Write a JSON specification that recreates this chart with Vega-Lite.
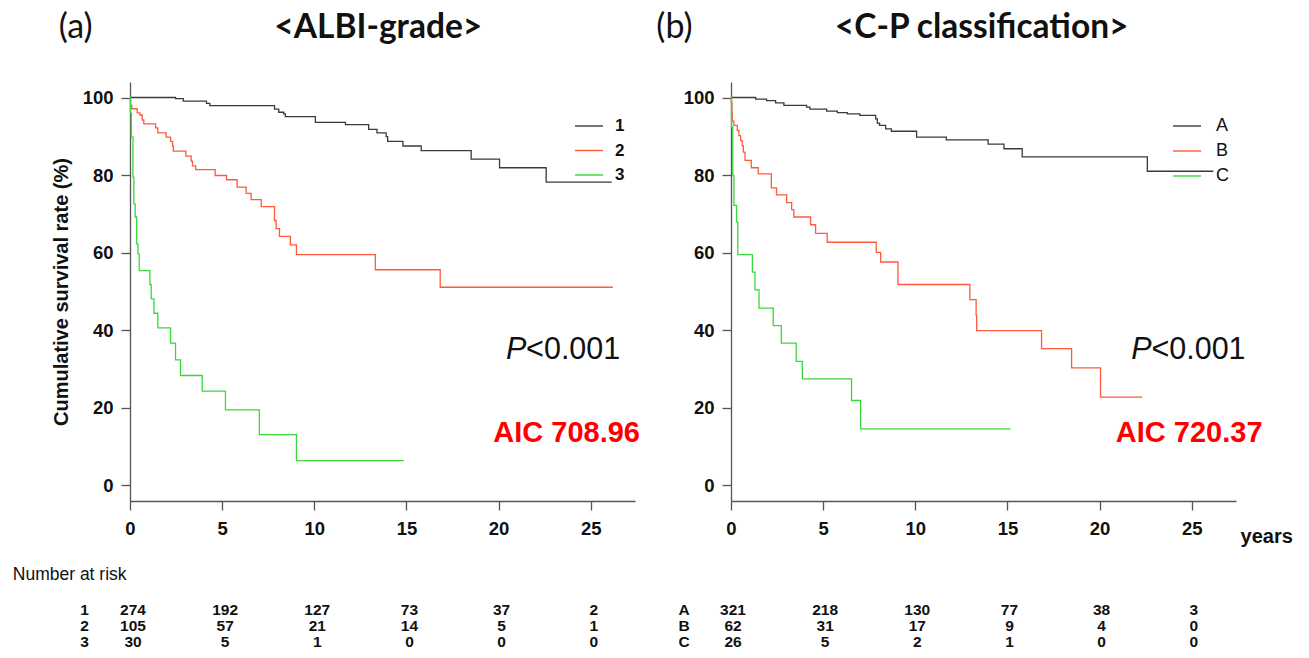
{
  "$schema": "https://vega.github.io/schema/vega-lite/v6.json",
  "padding": {"left": 12, "top": 11, "right": 5, "bottom": 5},
  "background": "white",
  "datasets": {
    "albi": [
      {"group": "1", "t": 0, "s": 100}, {"group": "1", "t": 2.47, "s": 99.7}, {"group": "1", "t": 2.89, "s": 99.05}, {"group": "1", "t": 4.15, "s": 98.5}, {"group": "1", "t": 4.33, "s": 97.9}, {"group": "1", "t": 7.84, "s": 97.0}, {"group": "1", "t": 8.07, "s": 96.2}, {"group": "1", "t": 8.34, "s": 95.8}, {"group": "1", "t": 8.43, "s": 95.1}, {"group": "1", "t": 10.06, "s": 93.6}, {"group": "1", "t": 11.69, "s": 93.0}, {"group": "1", "t": 12.95, "s": 91.8}, {"group": "1", "t": 13.4, "s": 90.9}, {"group": "1", "t": 13.9, "s": 89.9}, {"group": "1", "t": 13.98, "s": 88.7}, {"group": "1", "t": 14.81, "s": 87.5}, {"group": "1", "t": 15.8, "s": 86.3}, {"group": "1", "t": 18.51, "s": 84.1}, {"group": "1", "t": 20.05, "s": 81.9}, {"group": "1", "t": 22.58, "s": 78.2}, {"group": "1", "t": 26.14, "s": 78.2},
      {"group": "2", "t": 0, "s": 100}, {"group": "2", "t": 0.03, "s": 98.0}, {"group": "2", "t": 0.1, "s": 97.1}, {"group": "2", "t": 0.39, "s": 96.05}, {"group": "2", "t": 0.54, "s": 95.5}, {"group": "2", "t": 0.66, "s": 94.2}, {"group": "2", "t": 0.75, "s": 93.2}, {"group": "2", "t": 1.39, "s": 92.2}, {"group": "2", "t": 1.51, "s": 90.9}, {"group": "2", "t": 1.96, "s": 89.8}, {"group": "2", "t": 2.2, "s": 88.7}, {"group": "2", "t": 2.31, "s": 87.5}, {"group": "2", "t": 2.35, "s": 86.2}, {"group": "2", "t": 3.03, "s": 84.9}, {"group": "2", "t": 3.32, "s": 83.6}, {"group": "2", "t": 3.39, "s": 82.4}, {"group": "2", "t": 3.56, "s": 81.4}, {"group": "2", "t": 4.62, "s": 79.9}, {"group": "2", "t": 5.24, "s": 78.8}, {"group": "2", "t": 5.81, "s": 76.9}, {"group": "2", "t": 6.3, "s": 75.3}, {"group": "2", "t": 6.57, "s": 73.7}, {"group": "2", "t": 7.12, "s": 71.9}, {"group": "2", "t": 7.84, "s": 68.3}, {"group": "2", "t": 7.93, "s": 66.2}, {"group": "2", "t": 8.11, "s": 64.2}, {"group": "2", "t": 8.7, "s": 62.0}, {"group": "2", "t": 9.03, "s": 59.5}, {"group": "2", "t": 13.31, "s": 55.6}, {"group": "2", "t": 16.83, "s": 51.1}, {"group": "2", "t": 26.2, "s": 51.1},
      {"group": "3", "t": 0, "s": 100}, {"group": "3", "t": 0.02, "s": 96}, {"group": "3", "t": 0.07, "s": 89.8}, {"group": "3", "t": 0.16, "s": 79.5}, {"group": "3", "t": 0.21, "s": 72.6}, {"group": "3", "t": 0.28, "s": 69.2}, {"group": "3", "t": 0.36, "s": 62.3}, {"group": "3", "t": 0.43, "s": 59.7}, {"group": "3", "t": 0.5, "s": 55.4}, {"group": "3", "t": 1.08, "s": 51.8}, {"group": "3", "t": 1.15, "s": 48.1}, {"group": "3", "t": 1.3, "s": 44.4}, {"group": "3", "t": 1.51, "s": 40.6}, {"group": "3", "t": 2.2, "s": 36.7}, {"group": "3", "t": 2.47, "s": 32.4}, {"group": "3", "t": 2.74, "s": 28.35}, {"group": "3", "t": 3.92, "s": 24.3}, {"group": "3", "t": 5.18, "s": 19.5}, {"group": "3", "t": 7.02, "s": 13.1}, {"group": "3", "t": 9.03, "s": 6.4}, {"group": "3", "t": 14.85, "s": 6.4}
    ],
    "cp": [
      {"group": "A", "t": 0, "s": 100}, {"group": "A", "t": 1.34, "s": 99.6}, {"group": "A", "t": 1.93, "s": 99.2}, {"group": "A", "t": 2.42, "s": 98.6}, {"group": "A", "t": 2.87, "s": 98.0}, {"group": "A", "t": 4.1, "s": 97.5}, {"group": "A", "t": 4.28, "s": 97.0}, {"group": "A", "t": 5.19, "s": 96.5}, {"group": "A", "t": 5.77, "s": 96.1}, {"group": "A", "t": 6.31, "s": 95.8}, {"group": "A", "t": 6.99, "s": 95.4}, {"group": "A", "t": 7.85, "s": 94.5}, {"group": "A", "t": 7.94, "s": 93.4}, {"group": "A", "t": 8.06, "s": 92.8}, {"group": "A", "t": 8.39, "s": 91.9}, {"group": "A", "t": 8.7, "s": 91.3}, {"group": "A", "t": 10.07, "s": 89.8}, {"group": "A", "t": 11.68, "s": 89.1}, {"group": "A", "t": 13.95, "s": 88.0}, {"group": "A", "t": 14.81, "s": 86.8}, {"group": "A", "t": 15.8, "s": 84.7}, {"group": "A", "t": 22.59, "s": 81.0}, {"group": "A", "t": 26.17, "s": 81.0},
      {"group": "B", "t": 0, "s": 100}, {"group": "B", "t": 0.02, "s": 98.4}, {"group": "B", "t": 0.05, "s": 96.2}, {"group": "B", "t": 0.07, "s": 93.9}, {"group": "B", "t": 0.16, "s": 92.8}, {"group": "B", "t": 0.34, "s": 91.5}, {"group": "B", "t": 0.43, "s": 90.2}, {"group": "B", "t": 0.52, "s": 88.9}, {"group": "B", "t": 0.61, "s": 87.6}, {"group": "B", "t": 0.67, "s": 85.9}, {"group": "B", "t": 0.76, "s": 83.8}, {"group": "B", "t": 1.1, "s": 81.9}, {"group": "B", "t": 1.48, "s": 80.3}, {"group": "B", "t": 2.19, "s": 76.7}, {"group": "B", "t": 2.47, "s": 74.9}, {"group": "B", "t": 3.02, "s": 72.9}, {"group": "B", "t": 3.29, "s": 71.1}, {"group": "B", "t": 3.41, "s": 69.2}, {"group": "B", "t": 4.32, "s": 67.2}, {"group": "B", "t": 4.59, "s": 65.0}, {"group": "B", "t": 5.22, "s": 62.7}, {"group": "B", "t": 7.88, "s": 60.1}, {"group": "B", "t": 8.12, "s": 57.6}, {"group": "B", "t": 9.06, "s": 51.8}, {"group": "B", "t": 12.96, "s": 47.9}, {"group": "B", "t": 13.3, "s": 43.8}, {"group": "B", "t": 13.33, "s": 39.9}, {"group": "B", "t": 16.85, "s": 35.3}, {"group": "B", "t": 18.48, "s": 30.3}, {"group": "B", "t": 20.05, "s": 22.8}, {"group": "B", "t": 22.32, "s": 22.8},
      {"group": "C", "t": 0, "s": 100}, {"group": "C", "t": 0.03, "s": 92.4}, {"group": "C", "t": 0.1, "s": 79.9}, {"group": "C", "t": 0.16, "s": 72.2}, {"group": "C", "t": 0.3, "s": 67.9}, {"group": "C", "t": 0.37, "s": 59.5}, {"group": "C", "t": 1.16, "s": 55.0}, {"group": "C", "t": 1.3, "s": 50.4}, {"group": "C", "t": 1.52, "s": 45.7}, {"group": "C", "t": 2.29, "s": 41.2}, {"group": "C", "t": 2.73, "s": 36.7}, {"group": "C", "t": 3.54, "s": 32.0}, {"group": "C", "t": 3.87, "s": 27.5}, {"group": "C", "t": 6.54, "s": 21.9}, {"group": "C", "t": 7.03, "s": 14.6}, {"group": "C", "t": 15.17, "s": 14.6}
    ],
    "albiRisk": [
      {"group": "1", "t": 0, "n": 274}, {"group": "1", "t": 5, "n": 192}, {"group": "1", "t": 10, "n": 127}, {"group": "1", "t": 15, "n": 73}, {"group": "1", "t": 20, "n": 37}, {"group": "1", "t": 25, "n": 2},
      {"group": "2", "t": 0, "n": 105}, {"group": "2", "t": 5, "n": 57}, {"group": "2", "t": 10, "n": 21}, {"group": "2", "t": 15, "n": 14}, {"group": "2", "t": 20, "n": 5}, {"group": "2", "t": 25, "n": 1},
      {"group": "3", "t": 0, "n": 30}, {"group": "3", "t": 5, "n": 5}, {"group": "3", "t": 10, "n": 1}, {"group": "3", "t": 15, "n": 0}, {"group": "3", "t": 20, "n": 0}, {"group": "3", "t": 25, "n": 0}
    ],
    "cpRisk": [
      {"group": "A", "t": 0, "n": 321}, {"group": "A", "t": 5, "n": 218}, {"group": "A", "t": 10, "n": 130}, {"group": "A", "t": 15, "n": 77}, {"group": "A", "t": 20, "n": 38}, {"group": "A", "t": 25, "n": 3},
      {"group": "B", "t": 0, "n": 62}, {"group": "B", "t": 5, "n": 31}, {"group": "B", "t": 10, "n": 17}, {"group": "B", "t": 15, "n": 9}, {"group": "B", "t": 20, "n": 4}, {"group": "B", "t": 25, "n": 0},
      {"group": "C", "t": 0, "n": 26}, {"group": "C", "t": 5, "n": 5}, {"group": "C", "t": 10, "n": 2}, {"group": "C", "t": 15, "n": 1}, {"group": "C", "t": 20, "n": 0}, {"group": "C", "t": 25, "n": 0}
    ]
  },
  "hconcat": [
    {
      "width": 505, "height": 419,
      "layer": [
        {
          "data": {"name": "albi"},
          "mark": {"type": "line", "interpolate": "step-after", "strokeWidth": 1.3},
          "encoding": {
            "x": {"field": "t", "type": "quantitative", "scale": {"domain": [0, 27.4], "nice": false, "zero": false}, "axis": {"values": [0, 5, 10, 15, 20, 25], "title": null, "tickSize": 9, "labelPadding": 9, "labelFlush": false, "labelOverlap": false}},
            "y": {"field": "s", "type": "quantitative", "scale": {"domain": [-4, 104], "nice": false, "zero": false}, "axis": {"values": [0, 20, 40, 60, 80, 100], "title": "Cumulative survival rate (%)", "titleFontSize": 20, "titlePadding": 11, "tickSize": 9, "labelPadding": 8, "labelFlush": false, "labelOverlap": false}},
            "color": {"field": "group", "type": "nominal", "scale": {"domain": ["1", "2", "3"], "range": ["#3a3a3a", "#ff5a3c", "#3ad83a"]}, "legend": {"orient": "none", "legendX": 444, "legendY": 29, "title": null, "symbolType": "stroke", "symbolSize": 784, "symbolStrokeWidth": 1.4, "labelFontSize": 17, "labelFontWeight": "bold", "labelOffset": 11, "rowPadding": 1.5, "padding": 0}}
          }
        },
        {"data": {"values": [{}]}, "mark": {"type": "text", "text": "(a)", "font": "Lato", "fontSize": 34, "align": "center", "baseline": "middle", "color": "#111"}, "encoding": {"x": {"datum": -2.95}, "y": {"datum": 117.8}}},
        {"data": {"values": [{}]}, "mark": {"type": "text", "text": "<ALBI-grade>", "font": "Lato", "fontSize": 33.5, "fontWeight": "bold", "align": "center", "baseline": "middle", "color": "#111"}, "encoding": {"x": {"datum": 13.47}, "y": {"datum": 117.8}}},
        {"data": {"values": [{}]}, "mark": {"type": "text", "text": "<0.001", "font": "Liberation Sans", "fontSize": 30.5, "align": "right", "baseline": "middle", "color": "#111"}, "encoding": {"x": {"datum": 26.6}, "y": {"datum": 34.8}}},
        {"data": {"values": [{}]}, "mark": {"type": "text", "text": "P", "font": "Liberation Sans", "fontSize": 30.5, "fontStyle": "italic", "align": "right", "baseline": "middle", "dx": -94, "color": "#111"}, "encoding": {"x": {"datum": 26.6}, "y": {"datum": 34.8}}},
        {"data": {"values": [{}]}, "mark": {"type": "text", "text": "AIC 708.96", "font": "Liberation Sans", "fontSize": 29, "fontWeight": "bold", "align": "right", "baseline": "middle", "color": "#ff0000"}, "encoding": {"x": {"datum": 27.67}, "y": {"datum": 13.4}}},
        {"data": {"values": [{}]}, "mark": {"type": "text", "text": "Number at risk", "font": "Liberation Sans", "fontSize": 17.5, "align": "left", "baseline": "middle", "color": "#111"}, "encoding": {"x": {"datum": -6.36}, "y": {"datum": -23.2}}},
        {"data": {"name": "albiRisk"}, "transform": [{"filter": {"field": "group", "equal": "1"}}], "mark": {"type": "text", "font": "Liberation Sans", "fontSize": 15.5, "fontWeight": "bold", "align": "center", "baseline": "middle", "dx": 3, "color": "#111"}, "encoding": {"x": {"field": "t", "type": "quantitative"}, "y": {"datum": -32.08}, "text": {"field": "n"}}},
        {"data": {"name": "albiRisk"}, "transform": [{"filter": {"field": "group", "equal": "2"}}], "mark": {"type": "text", "font": "Liberation Sans", "fontSize": 15.5, "fontWeight": "bold", "align": "center", "baseline": "middle", "dx": 3, "color": "#111"}, "encoding": {"x": {"field": "t", "type": "quantitative"}, "y": {"datum": -36.2}, "text": {"field": "n"}}},
        {"data": {"name": "albiRisk"}, "transform": [{"filter": {"field": "group", "equal": "3"}}], "mark": {"type": "text", "font": "Liberation Sans", "fontSize": 15.5, "fontWeight": "bold", "align": "center", "baseline": "middle", "dx": 3, "color": "#111"}, "encoding": {"x": {"field": "t", "type": "quantitative"}, "y": {"datum": -40.33}, "text": {"field": "n"}}},
        {"data": {"name": "albiRisk"}, "transform": [{"filter": "datum.group === '1' && datum.t === 0"}], "mark": {"type": "text", "font": "Liberation Sans", "fontSize": 15.5, "fontWeight": "bold", "align": "center", "baseline": "middle", "color": "#111"}, "encoding": {"x": {"datum": -2.46}, "y": {"datum": -32.08}, "text": {"field": "group"}}},
        {"data": {"name": "albiRisk"}, "transform": [{"filter": "datum.group === '2' && datum.t === 0"}], "mark": {"type": "text", "font": "Liberation Sans", "fontSize": 15.5, "fontWeight": "bold", "align": "center", "baseline": "middle", "color": "#111"}, "encoding": {"x": {"datum": -2.46}, "y": {"datum": -36.2}, "text": {"field": "group"}}},
        {"data": {"name": "albiRisk"}, "transform": [{"filter": "datum.group === '3' && datum.t === 0"}], "mark": {"type": "text", "font": "Liberation Sans", "fontSize": 15.5, "fontWeight": "bold", "align": "center", "baseline": "middle", "color": "#111"}, "encoding": {"x": {"datum": -2.46}, "y": {"datum": -40.33}, "text": {"field": "group"}}}
      ]
    },
    {
      "width": 505, "height": 419,
      "layer": [
        {
          "data": {"name": "cp"},
          "mark": {"type": "line", "interpolate": "step-after", "strokeWidth": 1.3},
          "encoding": {
            "x": {"field": "t", "type": "quantitative", "scale": {"domain": [0, 27.4], "nice": false, "zero": false}, "axis": {"values": [0, 5, 10, 15, 20, 25], "title": null, "tickSize": 9, "labelPadding": 9, "labelFlush": false, "labelOverlap": false}},
            "y": {"field": "s", "type": "quantitative", "scale": {"domain": [-4, 104], "nice": false, "zero": false}, "axis": {"values": [0, 20, 40, 60, 80, 100], "title": null, "tickSize": 9, "labelPadding": 8, "labelFlush": false, "labelOverlap": false}},
            "color": {"field": "group", "type": "nominal", "scale": {"domain": ["A", "B", "C"], "range": ["#3a3a3a", "#ff5a3c", "#3ad83a"]}, "legend": {"orient": "none", "legendX": 441, "legendY": 29, "title": null, "symbolType": "stroke", "symbolSize": 784, "symbolStrokeWidth": 1.4, "labelFontSize": 18, "labelFontWeight": "normal", "labelOffset": 14, "rowPadding": 1, "padding": 0}}
          }
        },
        {"data": {"values": [{}]}, "mark": {"type": "text", "text": "(b)", "font": "Lato", "fontSize": 34, "align": "center", "baseline": "middle", "color": "#111"}, "encoding": {"x": {"datum": -3.07}, "y": {"datum": 117.8}}},
        {"data": {"values": [{}]}, "mark": {"type": "text", "text": "<C-P classification>", "font": "Lato", "fontSize": 33.5, "fontWeight": "bold", "align": "center", "baseline": "middle", "color": "#111"}, "encoding": {"x": {"datum": 13.6}, "y": {"datum": 117.8}}},
        {"data": {"values": [{}]}, "mark": {"type": "text", "text": "<0.001", "font": "Liberation Sans", "fontSize": 30.5, "align": "right", "baseline": "middle", "color": "#111"}, "encoding": {"x": {"datum": 27.92}, "y": {"datum": 34.8}}},
        {"data": {"values": [{}]}, "mark": {"type": "text", "text": "P", "font": "Liberation Sans", "fontSize": 30.5, "fontStyle": "italic", "align": "right", "baseline": "middle", "dx": -94, "color": "#111"}, "encoding": {"x": {"datum": 27.92}, "y": {"datum": 34.8}}},
        {"data": {"values": [{}]}, "mark": {"type": "text", "text": "AIC 720.37", "font": "Liberation Sans", "fontSize": 29, "fontWeight": "bold", "align": "right", "baseline": "middle", "color": "#ff0000"}, "encoding": {"x": {"datum": 28.84}, "y": {"datum": 13.4}}},
        {"data": {"values": [{}]}, "mark": {"type": "text", "text": "years", "font": "Liberation Sans", "fontSize": 20, "fontWeight": "bold", "align": "left", "baseline": "middle", "color": "#111"}, "encoding": {"x": {"datum": 27.65}, "y": {"datum": -13.4}}},
        {"data": {"name": "cpRisk"}, "transform": [{"filter": {"field": "group", "equal": "A"}}], "mark": {"type": "text", "font": "Liberation Sans", "fontSize": 15.5, "fontWeight": "bold", "align": "center", "baseline": "middle", "dx": 2, "color": "#111"}, "encoding": {"x": {"field": "t", "type": "quantitative"}, "y": {"datum": -32.08}, "text": {"field": "n"}}},
        {"data": {"name": "cpRisk"}, "transform": [{"filter": {"field": "group", "equal": "B"}}], "mark": {"type": "text", "font": "Liberation Sans", "fontSize": 15.5, "fontWeight": "bold", "align": "center", "baseline": "middle", "dx": 2, "color": "#111"}, "encoding": {"x": {"field": "t", "type": "quantitative"}, "y": {"datum": -36.2}, "text": {"field": "n"}}},
        {"data": {"name": "cpRisk"}, "transform": [{"filter": {"field": "group", "equal": "C"}}], "mark": {"type": "text", "font": "Liberation Sans", "fontSize": 15.5, "fontWeight": "bold", "align": "center", "baseline": "middle", "dx": 2, "color": "#111"}, "encoding": {"x": {"field": "t", "type": "quantitative"}, "y": {"datum": -40.33}, "text": {"field": "n"}}},
        {"data": {"name": "cpRisk"}, "transform": [{"filter": "datum.group === 'A' && datum.t === 0"}], "mark": {"type": "text", "font": "Liberation Sans", "fontSize": 15.5, "fontWeight": "bold", "align": "center", "baseline": "middle", "color": "#111"}, "encoding": {"x": {"datum": -2.54}, "y": {"datum": -32.08}, "text": {"field": "group"}}},
        {"data": {"name": "cpRisk"}, "transform": [{"filter": "datum.group === 'B' && datum.t === 0"}], "mark": {"type": "text", "font": "Liberation Sans", "fontSize": 15.5, "fontWeight": "bold", "align": "center", "baseline": "middle", "color": "#111"}, "encoding": {"x": {"datum": -2.54}, "y": {"datum": -36.2}, "text": {"field": "group"}}},
        {"data": {"name": "cpRisk"}, "transform": [{"filter": "datum.group === 'C' && datum.t === 0"}], "mark": {"type": "text", "font": "Liberation Sans", "fontSize": 15.5, "fontWeight": "bold", "align": "center", "baseline": "middle", "color": "#111"}, "encoding": {"x": {"datum": -2.54}, "y": {"datum": -40.33}, "text": {"field": "group"}}}
      ]
    }
  ],
  "spacing": 96,
  "bounds": "flush",
  "resolve": {"scale": {"color": "independent", "x": "independent", "y": "independent"}, "legend": {"color": "independent"}},
  "config": {
    "view": {"stroke": null},
    "axis": {"grid": false, "domainColor": "#555", "domainWidth": 1.3, "tickColor": "#555", "tickWidth": 1.3, "labelFont": "Liberation Sans", "labelFontSize": 18.5, "labelFontWeight": "bold", "labelColor": "#111", "titleFont": "Liberation Sans", "titleFontWeight": "bold", "titleColor": "#111"},
    "legend": {"labelFont": "Liberation Sans", "labelColor": "#111"}
  }
}
